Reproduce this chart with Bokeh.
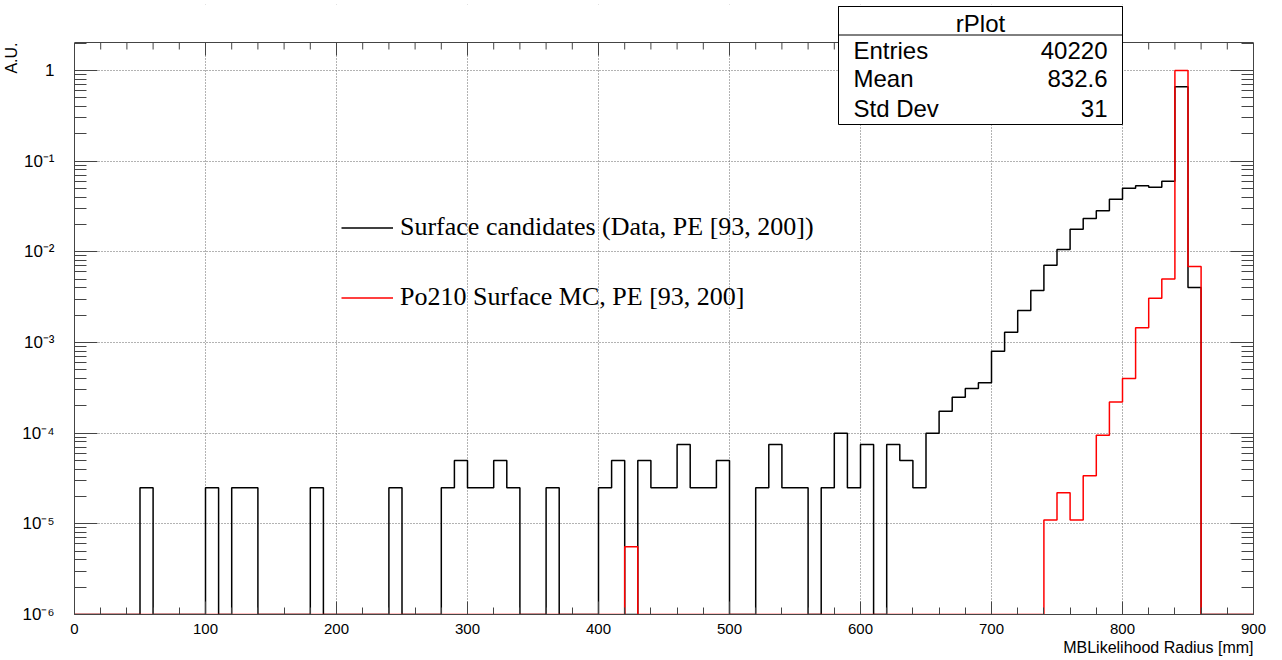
import math
from bokeh.plotting import figure
from bokeh.models import (FixedTicker, CustomJSTickFormatter, LogAxis, Label, Title, Span,
                          BoxAnnotation, Range1d, Legend, LegendItem)
from bokeh.embed import file_html
from bokeh.resources import INLINE

# ---------------- data ----------------
bin_edges = list(range(0, 910, 10))  # 90 bins of 10 mm

# Surface candidates (Data), A.U. per 10 mm bin
data_vals = [
    0, 0, 0, 0, 0, 2.5e-5, 0, 0, 0, 0,                     # 0-100
    2.5e-5, 0, 2.5e-5, 2.5e-5, 0, 0, 0, 0, 2.5e-5, 0,      # 100-200
    0, 0, 0, 0, 2.5e-5, 0, 0, 0, 2.5e-5, 5e-5,             # 200-300
    2.5e-5, 2.5e-5, 5e-5, 2.5e-5, 0, 0, 2.5e-5, 0, 0, 0,   # 300-400
    2.5e-5, 5e-5, 0, 5e-5, 2.5e-5, 2.5e-5, 7.5e-5, 2.5e-5, 2.5e-5, 5e-5,  # 400-500
    0, 0, 2.5e-5, 7.5e-5, 2.5e-5, 2.5e-5, 0, 2.5e-5, 1e-4, 2.5e-5,     # 500-600
    7.5e-5, 0, 7.5e-5, 5e-5, 2.5e-5, 1e-4, 1.74e-4, 2.49e-4, 3.1e-4, 3.6e-4,  # 600-700
    8.0e-4, 1.30e-3, 2.25e-3, 3.74e-3, 7.1e-3, 1.06e-2, 1.78e-2, 2.33e-2, 2.83e-2, 3.80e-2,  # 700-800
    5.04e-2, 5.35e-2, 5.16e-2, 6.0e-2, 0.66, 4.05e-3, 0, 0, 0, 0,     # 800-900
]

# Po210 Surface MC, A.U. per 10 mm bin
mc_vals = [
    0, 0, 0, 0, 0, 0, 0, 0, 0, 0,
    0, 0, 0, 0, 0, 0, 0, 0, 0, 0,
    0, 0, 0, 0, 0, 0, 0, 0, 0, 0,
    0, 0, 0, 0, 0, 0, 0, 0, 0, 0,
    0, 0, 5.6e-6, 0, 0, 0, 0, 0, 0, 0,
    0, 0, 0, 0, 0, 0, 0, 0, 0, 0,
    0, 0, 0, 0, 0, 0, 0, 0, 0, 0,
    0, 0, 0, 0, 1.1e-5, 2.2e-5, 1.1e-5, 3.4e-5, 9.5e-5, 2.2e-4,
    4.0e-4, 1.45e-3, 3.08e-3, 5.03e-3, 1.0, 6.9e-3, 0, 0, 0, 0,
]

x_ticks = [0, 100, 200, 300, 400, 500, 600, 700, 800, 900]
y_ticks = [1e-6, 1e-5, 1e-4, 1e-3, 1e-2, 1e-1, 1]

stats_title = "rPlot"
stats_names = ["Entries", "Mean", "Std Dev"]
stats_values = ["40220", "832.6", "31"]
legend_labels = ["Surface candidates (Data, PE [93, 200])", "Po210 Surface MC, PE [93, 200]"]
x_title = "MBLikelihood Radius [mm]"
y_title = "A.U."

# ---------------- layout constants ----------------
SANS = "Liberation Sans"
SERIF = "Liberation Serif"
FRAME_COL = "#444444"
FRAME_W, FRAME_H = 1179, 610        # frame extends up to the stats box top
AXIS_TOP_PX = 38                    # visible (ROOT) frame top sits 38 px below the bokeh frame top
YMIN = 1e-6
PX_PER_DEC = 544 / 6.0
YMAX = 10 ** (math.log10(YMIN) + FRAME_H / PX_PER_DEC)
YVIS = 10 ** (math.log10(YMIN) + (FRAME_H - AXIS_TOP_PX) / PX_PER_DEC)

x_minor = [v for v in range(0, 901, 20) if v % 100 != 0]
y_minor = [k * 10.0 ** e for e in range(-6, 1) for k in range(2, 10) if k * 10.0 ** e < YVIS]

# ---------------- figure ----------------
p = figure(frame_width=FRAME_W, frame_height=FRAME_H,
           x_range=Range1d(0, 900), y_range=Range1d(YMIN, YMAX),
           y_axis_type="log", output_backend="svg", toolbar_location=None,
           min_border_left=73, min_border_right=30, min_border_top=4, min_border_bottom=46,
           background_fill_color="white", border_fill_color="white",
           outline_line_color=None)

def step_xy(vals):
    ys = [max(v, YMIN) for v in vals]
    return bin_edges, ys + [ys[-1]]

bx, by = step_xy(data_vals)
rx, ry = step_xy(mc_vals)
r_data = p.step(bx, by, mode="after", line_color="black", line_width=1.5)
r_mc = p.step(rx, ry, mode="after", line_color="#ff0000", line_width=1.5)

# axes
p.xaxis.ticker = FixedTicker(ticks=x_ticks, minor_ticks=x_minor)
p.yaxis.ticker = FixedTicker(ticks=y_ticks, minor_ticks=y_minor)
p.yaxis.bounds = (YMIN, YVIS)
p.yaxis.formatter = CustomJSTickFormatter(code="""
const e = Math.round(Math.log10(tick));
if (e === 0) { return "1"; }
const sup = {"-": "\u207b", "0": "\u2070", "1": "\u00b9", "2": "\u00b2", "3": "\u00b3",
             "4": "\u2074", "5": "\u2075", "6": "\u2076", "7": "\u2077", "8": "\u2078", "9": "\u2079"};
return "10" + String(e).split("").map(c => sup[c]).join("");
""")

for ax in (p.xaxis[0], p.yaxis[0]):
    ax.axis_line_color = FRAME_COL
    ax.major_tick_line_color = FRAME_COL
    ax.minor_tick_line_color = FRAME_COL
    ax.major_tick_out = 0
    ax.minor_tick_out = 0
    ax.major_label_text_font = SANS
    ax.major_label_text_color = "black"

p.xaxis.major_tick_in = 13
p.xaxis.minor_tick_in = 7
p.xaxis.major_label_text_font_size = "15px"
p.xaxis.major_label_standoff = 9
p.yaxis.major_tick_in = 23
p.yaxis.minor_tick_in = 12
p.yaxis.major_label_text_font_size = "17px"
p.yaxis.major_label_standoff = 20

empty = CustomJSTickFormatter(code="return '';")
right_ax = LogAxis(ticker=FixedTicker(ticks=y_ticks, minor_ticks=y_minor), formatter=empty,
                   bounds=(YMIN, YVIS),
                   major_tick_in=23, major_tick_out=0, minor_tick_in=12, minor_tick_out=0,
                   axis_line_color=FRAME_COL, major_tick_line_color=FRAME_COL,
                   minor_tick_line_color=FRAME_COL, major_label_text_font_size="1px",
                   major_label_standoff=0)
p.add_layout(right_ax, "right")

# titles
p.add_layout(Title(text=x_title, align="right", offset=0, standoff=0,
                   text_font=SANS, text_font_size="16px", text_font_style="normal",
                   text_color="black"), "below")
p.add_layout(Title(text=y_title, align="right", offset=AXIS_TOP_PX, standoff=0,
                   text_font=SANS, text_font_size="16px", text_font_style="normal",
                   text_color="black"), "left")

# grid
p.grid.grid_line_color = "#666666"
p.grid.grid_line_dash = "1 2"
p.grid.grid_line_width = 1

# hide everything above the visible frame top, then draw the top frame line and its ticks
p.add_layout(BoxAnnotation(bottom=YVIS, fill_color="white", fill_alpha=1.0, line_alpha=0,
                           level="annotation"))
p.add_layout(Span(location=YVIS, dimension="width", line_color=FRAME_COL, line_width=1,
                  level="overlay"))
dec_per_px = 1.0 / PX_PER_DEC
p.segment(x0=x_ticks, x1=x_ticks, y0=[YVIS] * len(x_ticks),
          y1=[YVIS * 10 ** (-13 * dec_per_px)] * len(x_ticks), line_color=FRAME_COL, line_width=1)
p.segment(x0=x_minor, x1=x_minor, y0=[YVIS] * len(x_minor),
          y1=[YVIS * 10 ** (-7 * dec_per_px)] * len(x_minor), line_color=FRAME_COL, line_width=1)

# legend
legend = Legend(items=[LegendItem(label=legend_labels[0], renderers=[r_data]),
                       LegendItem(label=legend_labels[1], renderers=[r_mc])],
                location=(267, 299.5), orientation="vertical",
                label_text_font=SERIF, label_text_font_size="26px", label_text_color="black",
                glyph_width=52, glyph_height=35, label_height=35, spacing=35,
                label_standoff=7, padding=0, margin=0,
                border_line_alpha=0, background_fill_alpha=0)
p.add_layout(legend, "center")

# stats box (screen units relative to the frame's bottom-left corner)
p.add_layout(BoxAnnotation(left=764, right=1048, top=608, bottom=490,
                           left_units="screen", right_units="screen",
                           top_units="screen", bottom_units="screen",
                           fill_color="white", fill_alpha=1.0,
                           line_color="black", line_alpha=1.0, line_width=1, level="overlay"))
p.add_layout(BoxAnnotation(left=764, right=1048, top=608, bottom=579.5,
                           left_units="screen", right_units="screen",
                           top_units="screen", bottom_units="screen",
                           fill_alpha=0, line_color="black", line_alpha=1.0, line_width=1,
                           level="overlay"))
p.add_layout(Label(x=906, y=591, x_units="screen", y_units="screen", text=stats_title,
                   text_align="center", text_baseline="alphabetic",
                   text_font=SANS, text_font_size="24px", text_color="black", level="overlay"))
row_y = [564.3, 536, 506.3]
for name, val, yy in zip(stats_names, stats_values, row_y):
    p.add_layout(Label(x=779, y=yy, x_units="screen", y_units="screen", text=name,
                       text_align="left", text_baseline="alphabetic",
                       text_font=SANS, text_font_size="24px", text_color="black", level="overlay"))
    p.add_layout(Label(x=1033, y=yy, x_units="screen", y_units="screen", text=val,
                       text_align="right", text_baseline="alphabetic",
                       text_font=SANS, text_font_size="24px", text_color="black", level="overlay"))

open("out.html", "w").write(file_html(p, INLINE))
